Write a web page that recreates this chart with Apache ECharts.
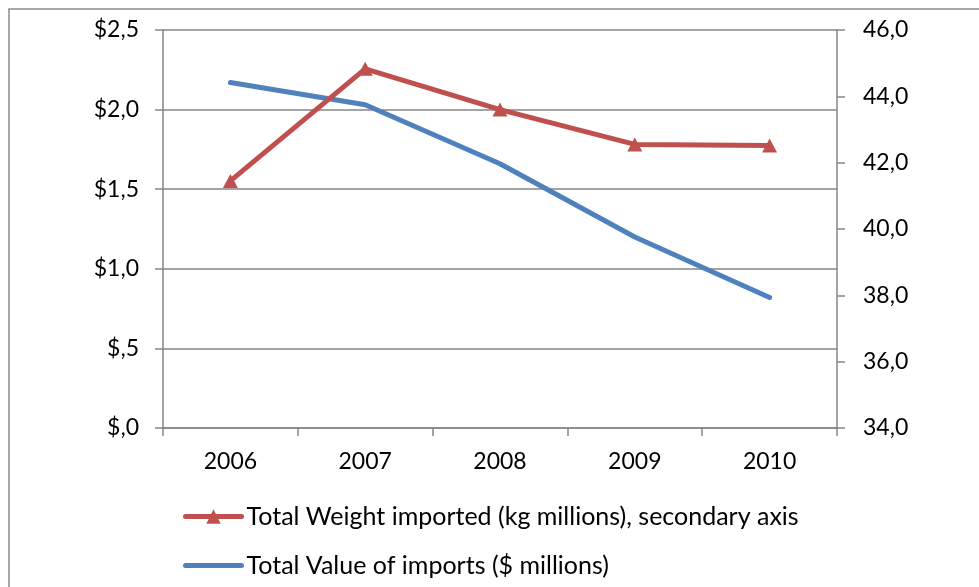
<!DOCTYPE html>
<html>
<head>
<meta charset="utf-8">
<script src="https://cdn.jsdelivr.net/npm/echarts@6/dist/echarts.min.js"></script>
<style>
  html, body { margin: 0; padding: 0; background: #fff; }
  #chart { width: 979px; height: 587px; }
</style>
</head>
<body>
<div id="chart"></div>
<script>
// Import totals by year
const years = ['2006', '2007', '2008', '2009', '2010'];
const totalValue = [2.17, 2.03, 1.66, 1.20, 0.82];        // $ millions, left axis
const totalWeight = [41.45, 44.83, 43.60, 42.55, 42.52];  // kg millions, right axis

const valueTickLabels = ['$,0', '$,5', '$1,0', '$1,5', '$2,0', '$2,5'];
const weightTickLabels = ['34,0', '36,0', '38,0', '40,0', '42,0', '44,0', '46,0'];

const valueName = 'Total Value of imports ($ millions)';
const weightName = 'Total Weight imported (kg millions), secondary axis';

const FONT = 'Lato, "Open Sans", sans-serif';
const AXIS_GRAY = '#868686';
const RED = '#C0504D';
const BLUE = '#4F81BD';

const chart = echarts.init(document.getElementById('chart'), null, { renderer: 'canvas' });

chart.setOption({
  animation: false,
  backgroundColor: '#ffffff',
  textStyle: { fontFamily: FONT },
  graphic: [{
    type: 'rect',
    shape: { x: 9, y: 9, width: 1200, height: 1000 },
    style: { fill: 'none', stroke: '#8c8c8c', lineWidth: 1.5 },
    silent: true,
    z: -10
  }],
  grid: { left: 163, right: 142, top: 30, bottom: 159, containLabel: false },
  legend: {
    orient: 'vertical',
    left: 183,
    top: 504,
    padding: 0,
    itemWidth: 56,
    itemHeight: 18,
    itemGap: 24,
    lineStyle: { width: 5, cap: 'round' },
    data: [
      { name: weightName },
      { name: valueName, itemStyle: { opacity: 0 } }
    ],
    textStyle: { fontFamily: FONT, fontSize: 25, color: '#000', padding: [0, 0, 0, 0] }
  },
  xAxis: {
    type: 'category',
    data: years,
    boundaryGap: true,
    axisLine: { lineStyle: { color: AXIS_GRAY, width: 1.5 } },
    axisTick: { show: true, length: 8, inside: false, lineStyle: { color: AXIS_GRAY, width: 1.5 } },
    axisLabel: { color: '#000', fontFamily: FONT, fontSize: 23, margin: 22 },
    splitLine: { show: false }
  },
  yAxis: [{
    type: 'value',
    position: 'left',
    min: 0,
    max: 2.5,
    interval: 0.5,
    axisLine: { show: true, lineStyle: { color: AXIS_GRAY, width: 1.5 } },
    axisTick: { show: true, length: 8, lineStyle: { color: AXIS_GRAY, width: 1.5 } },
    axisLabel: {
      color: '#000', fontFamily: FONT, fontSize: 23, margin: 24,
      formatter: v => valueTickLabels[Math.round(v / 0.5)]
    },
    splitLine: { show: true, lineStyle: { color: AXIS_GRAY, width: 1.5 } }
  }, {
    type: 'value',
    position: 'right',
    min: 34,
    max: 46,
    interval: 2,
    axisLine: { show: true, lineStyle: { color: AXIS_GRAY, width: 1.5 } },
    axisTick: { show: true, length: 8, lineStyle: { color: AXIS_GRAY, width: 1.5 } },
    axisLabel: {
      color: '#000', fontFamily: FONT, fontSize: 23, margin: 26,
      formatter: v => weightTickLabels[Math.round((v - 34) / 2)]
    },
    splitLine: { show: false }
  }],
  series: [{
    name: valueName,
    type: 'line',
    yAxisIndex: 0,
    data: totalValue,
    symbol: 'none',
    lineStyle: { color: BLUE, width: 5, cap: 'round', join: 'round' },
    itemStyle: { color: BLUE },
    z: 2
  }, {
    name: weightName,
    type: 'line',
    yAxisIndex: 1,
    data: totalWeight,
    symbol: 'triangle',
    symbolSize: [15, 14],
    showSymbol: true,
    lineStyle: { color: RED, width: 5, cap: 'round', join: 'round' },
    itemStyle: { color: RED },
    z: 3
  }]
});
</script>
</body>
</html>
